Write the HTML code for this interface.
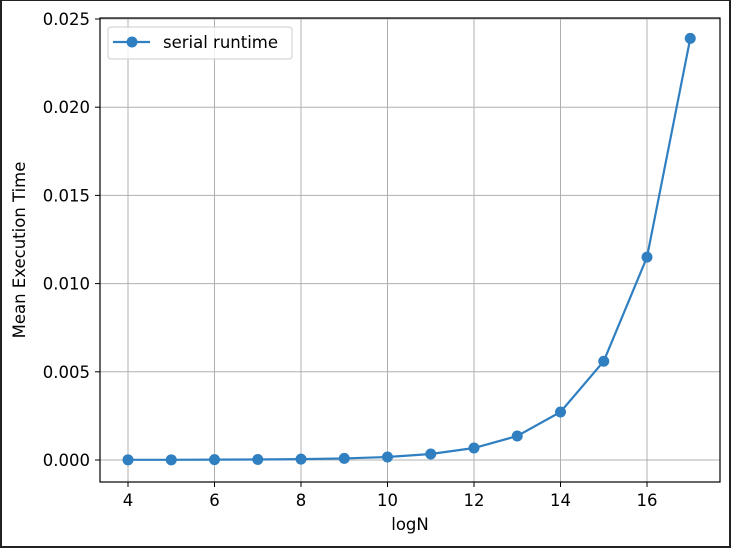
<!DOCTYPE html>
<html><head><meta charset="utf-8"><style>
body{margin:0;background:#fff;}
svg{display:block;font-family:"DejaVu Sans","Liberation Sans",sans-serif;}
</style></head><body>
<svg id="chart" width="732" height="549">
<rect x="1" y="0" width="729" height="547" fill="#fff" stroke="#222" stroke-width="2"/>
<g id="grid"></g><g id="axes"></g><g id="series"></g>
<rect x="100" y="18" width="620" height="464" fill="none" stroke="#000" stroke-width="1.2"/>
<text x="410" y="530" font-size="16.5" text-anchor="middle">logN</text>
<text transform="translate(25,250) rotate(-90)" font-size="16.5" text-anchor="middle">Mean Execution Time</text>
<g>
<rect x="108" y="27" width="184" height="32" rx="3" fill="#fff" fill-opacity="0.8" stroke="#ccc"/>
<line x1="113" y1="42" x2="150" y2="42" stroke="#2f7fc1" stroke-width="2.2"/>
<circle cx="132" cy="42" r="5.5" fill="#2f7fc1"/>
<text x="163" y="48" font-size="16.5">serial runtime</text>
</g>
</svg>
<script>
const xs=[4,5,6,7,8,9,10,11,12,13,14,15,16,17];
const ys=[0.00001,0.00001,0.00002,0.00003,0.00005,0.00009,0.00017,0.00034,0.00068,0.00136,0.00272,0.0056,0.0115,0.0239];
const xTicks=[4,6,8,10,12,14,16];
const yTicks=[0,0.005,0.010,0.015,0.020,0.025];
const yLabels=["0.000","0.005","0.010","0.015","0.020","0.025"];
const NS="http://www.w3.org/2000/svg";
const X=v=>128+(v-4)*43.25;
const Y=v=>460-v*17640;
function mk(tag,attrs,parent,txt){const e=document.createElementNS(NS,tag);for(const k in attrs)e.setAttribute(k,attrs[k]);if(txt!==undefined)e.textContent=txt;document.getElementById(parent).appendChild(e);return e;}
xTicks.forEach(t=>{
 const g=mk('line',{x1:X(t),x2:X(t),y1:18,y2:482,stroke:'#b0b0b0','stroke-width':1},'grid');
 
 
 mk('line',{x1:X(t),x2:X(t),y1:482,y2:487,stroke:'#000'},'axes');
 const l=mk('text',{x:X(t),y:506,'font-size':16.5,'text-anchor':'middle'},'axes',t);
 
 
});
yTicks.forEach((t,i)=>{
 const g=mk('line',{x1:100,x2:720,y1:Y(t),y2:Y(t),stroke:'#b0b0b0','stroke-width':1},'grid');
 
 
 mk('line',{x1:95,x2:100,y1:Y(t),y2:Y(t),stroke:'#000'},'axes');
 const l=mk('text',{x:90,y:Y(t)+6,'font-size':16.5,'text-anchor':'end'},'axes',yLabels[i]);
 
 
});
const line=mk('polyline',{points:xs.map((x,i)=>X(x)+','+Y(ys[i])).join(' '),fill:'none',stroke:'#2f7fc1','stroke-width':2.2},'series');


xs.forEach((x,i)=>{
 const c=mk('circle',{cx:X(x),cy:Y(ys[i]),r:5.5,fill:'#2f7fc1'},'series');
 
 
});
</script>
</body></html>
